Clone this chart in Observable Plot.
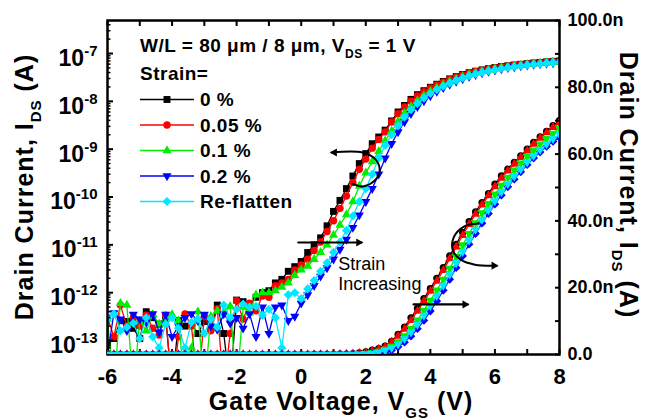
<!DOCTYPE html>
<html><head><meta charset="utf-8">
<script src="https://cdn.jsdelivr.net/npm/d3@7"></script>
<script src="https://cdn.jsdelivr.net/npm/@observablehq/plot@0.6"></script>
<style>
body{margin:0;background:#fff;}
#chart{position:relative;width:646px;height:420px;font-family:"Liberation Sans",Arial,sans-serif;}
#chart svg{position:absolute;left:0;top:0;overflow:visible;}
</style></head><body><div id="chart"></div>
<script>
// Gate voltage (V)
const vgs = [-6.0,-5.8,-5.6,-5.4,-5.2,-5.0,-4.8,-4.6,-4.4,-4.2,-4.0,-3.8,-3.6,-3.4,-3.2,-3.0,-2.8,-2.6,-2.4,-2.2,-2.0,-1.8,-1.6,-1.4,-1.2,-1.0,-0.8,-0.6,-0.4,-0.2,0.0,0.2,0.4,0.6,0.8,1.0,1.2,1.4,1.6,1.8,2.0,2.2,2.4,2.6,2.8,3.0,3.2,3.4,3.6,3.8,4.0,4.2,4.4,4.6,4.8,5.0,5.2,5.4,5.6,5.8,6.0,6.2,6.4,6.6,6.8,7.0,7.2,7.4,7.6,7.8,8.0];

const seriesNames = ["0 %", "0.05 %", "0.1 %", "0.2 %", "Re-flatten"];
const seriesColors = ["#000000", "#ff0000", "#00ee00", "#0000ff", "#00e8ff"];

// Drain current (A)
const ids0 = [8e-14,1.1e-13,2.6e-13,2.5e-13,1.8e-13,1.1e-13,4.0e-13,3.0e-13,2.2e-13,3.2e-13,1e-14,2.6e-13,2.0e-13,2.2e-13,1.4e-13,2.5e-13,1.8e-13,5.5e-13,1.4e-13,1e-14,7e-13,6.5e-13,5.5e-13,8e-13,1.0e-12,
 1.1e-12,1.6e-12,1.9e-12,2.8e-12,3.5e-12,4.5e-12,6.9e-12,1.0e-11,1.4e-11,2.5e-11,5.0e-11,8.5e-11,1.5e-10,2.75e-10,5.0e-10,8.1e-10,1.3e-9,1.8e-9,2.5e-9,3.9e-9,6.0e-9,8.2e-9,1.1e-8,1.38e-8,1.67e-8,1.97e-8,2.28e-8,2.6e-8,2.95e-8,3.3e-8,3.65e-8,3.98e-8,4.27e-8,4.55e-8,4.82e-8,5.1e-8,5.35e-8,5.55e-8,5.75e-8,5.95e-8,6.15e-8,6.35e-8,6.52e-8,6.68e-8,6.85e-8,7.0e-8];
const ids005 = [3e-13,1.2e-13,5.5e-13,2.0e-13,3.0e-13,2.0e-13,3.4e-13,1.8e-13,1.3e-13,3.4e-13,1e-14,1.2e-13,3.6e-13,2.0e-13,1e-14,3.2e-13,1.6e-13,4.6e-13,1e-14,1.4e-13,6.8e-13,2.8e-13,6.0e-13,4.2e-13,8.5e-13,
 8e-13,1.4e-12,1.6e-12,1.9e-12,3.0e-12,3.8e-12,5.0e-12,7.6e-12,1.15e-11,1.9e-11,3.2e-11,5.8e-11,1.05e-10,2.0e-10,3.8e-10,6.2e-10,1.05e-9,1.6e-9,2.3e-9,3.7e-9,5.5e-9,7.6e-9,1.02e-8,1.3e-8,1.6e-8,1.9e-8,2.2e-8,2.52e-8,2.87e-8,3.22e-8,3.57e-8,3.9e-8,4.2e-8,4.48e-8,4.76e-8,5.03e-8,5.28e-8,5.5e-8,5.7e-8,5.9e-8,6.1e-8,6.3e-8,6.48e-8,6.64e-8,6.8e-8,6.95e-8];
const ids01 = [2.8e-13,1e-14,6e-13,5.5e-13,1e-14,2.6e-13,1.6e-13,3.5e-13,2.2e-13,2.8e-13,3.5e-13,2.6e-13,1e-14,7e-14,4e-13,1e-14,3.2e-13,4.2e-13,3.8e-13,5.2e-13,1e-14,5.0e-13,3.8e-13,9e-13,1.0e-12,
 1.0e-12,1.1e-12,1.3e-12,1.6e-12,2.3e-12,3.0e-12,3.6e-12,5.0e-12,7.0e-12,1.0e-11,1.6e-11,2.6e-11,4.3e-11,8.0e-11,1.7e-10,3.2e-10,5.5e-10,9.0e-10,1.5e-9,2.4e-9,3.8e-9,5.6e-9,7.8e-9,1.03e-8,1.32e-8,1.62e-8,1.93e-8,2.25e-8,2.58e-8,2.93e-8,3.28e-8,3.62e-8,3.94e-8,4.24e-8,4.52e-8,4.8e-8,5.06e-8,5.3e-8,5.52e-8,5.73e-8,5.93e-8,6.12e-8,6.3e-8,6.46e-8,6.62e-8,6.78e-8];
const ids02 = [5e-14,3.8e-13,2.8e-13,1.6e-13,3.5e-13,2.8e-13,2.4e-13,3.6e-13,1.5e-13,3.5e-13,1.2e-13,2.0e-13,3.0e-13,3.6e-13,2.6e-13,3.5e-13,2.0e-13,1.7e-13,3.6e-13,2.3e-13,3.0e-13,1.8e-13,3.6e-13,1.2e-13,5.0e-13,
 1.4e-13,5e-13,5.5e-13,2.6e-13,3.2e-13,6.0e-13,9e-13,1.4e-12,2.2e-12,3.3e-12,5.0e-12,8.0e-12,1.3e-11,2.3e-11,4.2e-11,8.0e-11,1.5e-10,3.0e-10,6.5e-10,1.3e-9,2.3e-9,3.7e-9,5.5e-9,7.7e-9,1.02e-8,1.3e-8,1.6e-8,1.92e-8,2.25e-8,2.6e-8,2.95e-8,3.3e-8,3.62e-8,3.93e-8,4.22e-8,4.5e-8,4.77e-8,5.02e-8,5.25e-8,5.47e-8,5.68e-8,5.88e-8,6.06e-8,6.23e-8,6.38e-8,6.5e-8];
const idsRe = [2.8e-13,3.6e-13,1.6e-13,1.9e-13,2.3e-13,1.1e-13,3.0e-13,1.2e-13,7e-14,2.2e-13,3.0e-13,1.8e-13,7e-14,2.4e-13,2.8e-13,1.4e-13,2.8e-13,1.9e-13,5.5e-13,3.0e-13,4.5e-13,5.8e-13,5.0e-13,5.2e-13,3.4e-13,
 4.5e-13,3.0e-13,7e-14,9e-13,1.0e-12,7.5e-13,1.2e-12,1.8e-12,2.8e-12,4.2e-12,7.0e-12,1.15e-11,2.0e-11,4.0e-11,8.0e-11,1.5e-10,3.0e-10,6.5e-10,1.2e-9,2.0e-9,3.1e-9,4.7e-9,6.7e-9,9.0e-9,1.17e-8,1.46e-8,1.76e-8,2.07e-8,2.4e-8,2.74e-8,3.08e-8,3.42e-8,3.74e-8,4.04e-8,4.33e-8,4.6e-8,4.87e-8,5.11e-8,5.34e-8,5.55e-8,5.76e-8,5.95e-8,6.13e-8,6.3e-8,6.46e-8,6.6e-8];

// Tick values
const logTicks = [1e-13,1e-12,1e-11,1e-10,1e-9,1e-8,1e-7];
const linTicks = [0,2e-8,4e-8,6e-8,8e-8,1e-7];
const linMinor = [0,1e-8,2e-8,3e-8,4e-8,5e-8,6e-8,7e-8,8e-8,9e-8,1e-7];
const xTicks = [-6,-4,-2,0,2,4,6,8];
const xMinor = [-6,-5,-4,-3,-2,-1,0,1,2,3,4,5,6,7,8];
const logMinorMult = [2,3,4,5,6,7,8,9];

// Annotation anchors (data units)
const hookLog = [[0.94,8.5e-10],[1.90,8.5e-10],[2.30,6.1e-10],[2.43,3.4e-10],[2.24,2.1e-10],[1.90,1.66e-10],[1.59,1.9e-10]];
const arrowLog = [[-0.09,1.12e-11],[1.87,1.12e-11]];
const hookLin = [[5.50,3.92e-8],[5.04,3.83e-8],[4.72,3.50e-8],[4.70,3.11e-8],[4.94,2.84e-8],[5.38,2.69e-8],[6.06,2.66e-8]];
const arrowLin = [[3.48,1.5e-8],[5.16,1.5e-8]];
const annoText = [{v:1.15, I:2.71e-8, t:"Strain"},{v:1.15, I:2.10e-8, t:"Increasing"}];

const currents = [ids0, ids005, ids01, ids02, idsRe];

const triDown = {
  draw(context, size) {
    const y = -Math.sqrt(size / (3 * Math.sqrt(3)));
    context.moveTo(0, -2 * y);
    context.lineTo(-Math.sqrt(3) * y, y);
    context.lineTo(Math.sqrt(3) * y, y);
    context.closePath();
  }
};
const logSymbols = [d3.symbolSquare, d3.symbolCircle, d3.symbolTriangle, triDown, d3.symbolDiamond2];
const logR = [3.9, 3.7, 3.4, 3.4, 4.1];
const linSymbols = [d3.symbolCircle, d3.symbolTriangle, triDown, d3.symbolDiamond2, triDown];
const linR = [3.6, 3.4, 3.4, 3.9, 3.4];

const rows = currents.map(arr => vgs.map((v, i) => ({v, I: arr[i]})));

const W = 646, H = 420;
const common = {width: W, height: H, marginLeft: 107, marginRight: 87, marginTop: 20, marginBottom: 66};
const font = "Liberation Sans, Arial, sans-serif";

const logMinor = [];
for (let e = -14; e <= -7; e++) for (const m of logMinorMult) { const t = m * Math.pow(10, e); if (t > 5.1e-14 && t < 4.9e-7) logMinor.push(t); }

function seriesMarks(symbols, radii) {
  const out = [];
  rows.forEach((data, k) => {
    out.push(Plot.line(data, {x: "v", y: "I", stroke: seriesColors[k], strokeWidth: 1.3, clip: true}));
    out.push(Plot.dot(data, {x: "v", y: "I", fill: seriesColors[k], stroke: "none", symbol: symbols[k], r: radii[k], clip: true}));
  });
  return out;
}
const toXY = a => a.map(([v, I]) => ({v, I}));

const p1 = Plot.plot({
  ...common,
  style: {background: "white", fontFamily: font, overflow: "visible", color: "#000"},
  x: {domain: [-6, 8]},
  y: {type: "log", domain: [5.1e-14, 4.9e-7]},
  marks: [
    ...seriesMarks(logSymbols, logR),
    Plot.line(toXY(hookLog), {x: "v", y: "I", curve: "catmull-rom", stroke: "#000", strokeWidth: 2}),
    Plot.dot([toXY(hookLog)[0]], {x: "v", y: "I", symbol: "triangle", rotate: -90, r: 3, fill: "#000", dx: 3}),
    Plot.line(toXY(arrowLog), {x: "v", y: "I", stroke: "#000", strokeWidth: 2.2}),
    Plot.dot([toXY(arrowLog)[1]], {x: "v", y: "I", symbol: "triangle", rotate: 90, r: 3, fill: "#000", dx: -3}),
    Plot.frame({strokeWidth: 2.5}),
    Plot.axisY({anchor: "left", ticks: logTicks, tickSize: 0, tickPadding: 10, dy: 5,
      tickFormat: d => "10|" + Math.round(Math.log10(d)), fontSize: 23, fontWeight: "bold", label: null}),
    Plot.axisY({anchor: "left", ticks: logTicks, tickSize: 6, dx: 6, tickFormat: () => "", strokeWidth: 2, label: null}),
    Plot.axisY({anchor: "left", ticks: logMinor, tickSize: 3.5, dx: 3.5, tickFormat: () => "", strokeWidth: 1.5, label: null}),
    Plot.axisX({anchor: "bottom", ticks: xTicks, tickSize: 0, tickPadding: 14, tickFormat: d => String(d), fontSize: 22, fontWeight: "bold", label: null}),
    Plot.axisX({anchor: "bottom", ticks: xMinor, tickSize: 5, dy: -5, tickFormat: () => "", strokeWidth: 2, label: null}),
    Plot.axisX({anchor: "top", ticks: xMinor, tickSize: 5, dy: 5, tickFormat: () => "", strokeWidth: 2, label: null})
  ]
});

const p2 = Plot.plot({
  ...common,
  style: {background: "transparent", fontFamily: font, overflow: "visible", color: "#000"},
  x: {domain: [-6, 8], axis: null},
  y: {domain: [0, 1e-7]},
  marks: [
    ...seriesMarks(linSymbols, linR),
    Plot.line(toXY(hookLin), {x: "v", y: "I", curve: "catmull-rom", stroke: "#000", strokeWidth: 2}),
    Plot.dot([toXY(hookLin)[6]], {x: "v", y: "I", symbol: "triangle", rotate: 90, r: 3, fill: "#000", dx: -3}),
    Plot.line(toXY(arrowLin), {x: "v", y: "I", stroke: "#000", strokeWidth: 2.2}),
    Plot.dot([toXY(arrowLin)[1]], {x: "v", y: "I", symbol: "triangle", rotate: 90, r: 3, fill: "#000", dx: -3}),
    Plot.text(annoText, {x: "v", y: "I", text: "t", textAnchor: "start", fontSize: 18, fill: "#000", fontFamily: font}),
    Plot.axisY({anchor: "right", ticks: linTicks, tickSize: 0, tickPadding: 8,
      tickFormat: d => d === 0 ? "0.0" : (d * 1e9).toFixed(1) + "n", fontSize: 18, fontWeight: "bold", label: null}),
    Plot.axisY({anchor: "right", ticks: linMinor, tickSize: 5, dx: -5, tickFormat: () => "", strokeWidth: 2, label: null})
  ]
});

const chart = document.getElementById("chart");
chart.appendChild(p1);
chart.appendChild(p2);

// superscript exponents on log tick labels
d3.select(p1).selectAll("text").each(function() {
  const t = this.textContent;
  if (t.includes("|")) {
    const [base, ex] = t.split("|");
    const el = d3.select(this);
    el.text(null);
    el.append("tspan").attr("font-size", 23).attr("font-weight", "bold").text(base);
    el.append("tspan").attr("dy", -10).attr("font-size", 15).attr("font-weight", "bold").text(ex);
  }
});

const svg = d3.select(p2);
const g = svg.append("g").attr("font-family", font).attr("fill", "#000").attr("text-anchor", "start");

// axis titles
function title(sel, main, sub, tail) {
  sel.append("tspan").text(main);
  sel.append("tspan").attr("font-size", 15).attr("dy", 8).text(sub);
  sel.append("tspan").attr("dy", -8).text(tail);
}
title(g.append("text").attr("transform", "translate(341,410)").attr("text-anchor", "middle")
  .attr("font-size", 25).attr("font-weight", "bold").attr("letter-spacing", 1), "Gate Voltage, V", "GS", " (V)");
title(g.append("text").attr("transform", "translate(33,187) rotate(-90)").attr("text-anchor", "middle")
  .attr("font-size", 25).attr("font-weight", "bold").attr("letter-spacing", 1), "Drain Current, I", "DS", " (A)");
title(g.append("text").attr("transform", "translate(620,185) rotate(90)").attr("text-anchor", "middle")
  .attr("font-size", 25).attr("font-weight", "bold").attr("letter-spacing", 1), "Drain Current, I", "DS", " (A)");

// in-plot header
const hdr = g.append("text").attr("x", 140).attr("y", 52).attr("text-anchor", "start").attr("font-size", 19).attr("font-weight", "bold").attr("letter-spacing", 0.5);
hdr.append("tspan").text("W/L = 80 \u03bcm / 8 \u03bcm, V");
hdr.append("tspan").attr("font-size", 12).attr("dy", 6).text("DS");
hdr.append("tspan").attr("dy", -6).text(" = 1 V");
g.append("text").attr("x", 140).attr("y", 80).attr("text-anchor", "start").attr("font-size", 19).attr("font-weight", "bold").attr("letter-spacing", 0.5).text("Strain=");

// legend
seriesNames.forEach((name, k) => {
  const y = 99.5 + k * 25.5;
  g.append("line").attr("x1", 140).attr("x2", 194).attr("y1", y).attr("y2", y).attr("stroke", seriesColors[k]).attr("stroke-width", 1.5);
  g.append("path").attr("transform", `translate(167,${y})`).attr("fill", seriesColors[k])
    .attr("d", d3.symbol(logSymbols[k], Math.PI * logR[k] * logR[k])());
  g.append("text").attr("x", 200).attr("y", y).attr("dy", "0.36em").attr("text-anchor", "start").attr("font-size", 19).attr("font-weight", "bold").attr("letter-spacing", 0.5).text(name);
});
</script></body></html>
